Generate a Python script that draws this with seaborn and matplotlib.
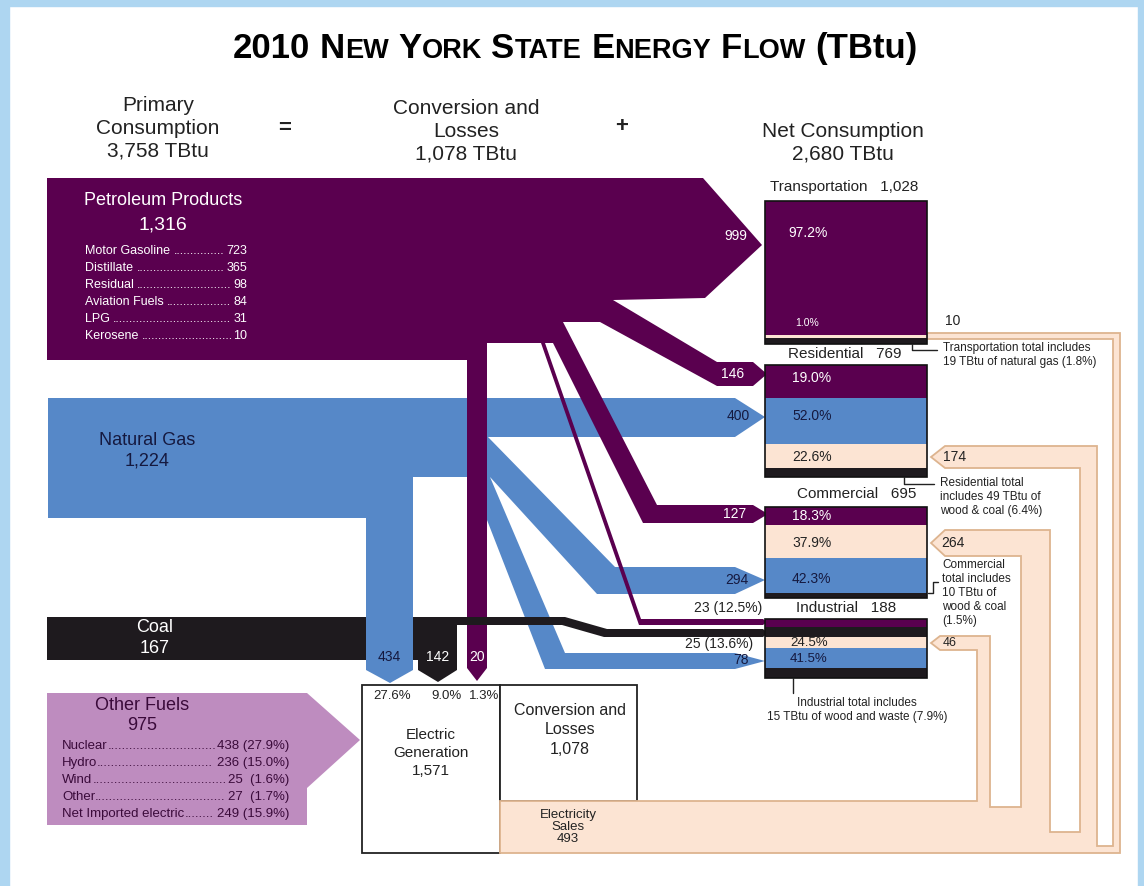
import matplotlib
matplotlib.use("Agg")
import matplotlib.pyplot as plt
from matplotlib.patches import Polygon, Rectangle
import seaborn as sns

# ---- data (TBtu) ----
primary_total = 3758
losses_total = 1078
net_total = 2680

petro_total = 1316
petro_items = ["Motor Gasoline", "Distillate", "Residual", "Aviation Fuels", "LPG", "Kerosene"]
petro_vals = [723, 365, 98, 84, 31, 10]

gas_total = 1224
coal_total = 167

other_total = 975
other_items = ["Nuclear", "Hydro", "Wind", "Other", "Net Imported electric"]
other_vals = [438, 236, 25, 27, 249]
other_pcts = [27.9, 15.0, 1.6, 1.7, 15.9]

sectors = ["Transportation", "Residential", "Commercial", "Industrial"]
sector_totals = [1028, 769, 695, 188]
petro_to_sector = [999, 146, 127, 23]
gas_to_sector = [None, 400, 294, 78]
elec_to_sector = [10, 174, 264, 46]
coal_to_industry = 25
petro_ind_pct = 12.5
coal_ind_pct = 13.6

# percent shares shown inside each sector box (top to bottom)
sector_pcts = {
    "Transportation": [97.2, 1.0],
    "Residential": [19.0, 52.0, 22.6],
    "Commercial": [18.3, 37.9, 42.3],
    "Industrial": [24.5, 41.5],
}
sector_notes = [
    "Transportation total includes\n19 TBtu of natural gas (1.8%)",
    "Residential total\nincludes 49 TBtu of\nwood & coal (6.4%)",
    "Commercial\ntotal includes\n10 TBtu of\nwood & coal\n(1.5%)",
    "Industrial total includes\n15 TBtu of wood and waste (7.9%)",
]

to_elec = [434, 142, 20]          # gas, coal, petroleum into electric generation
to_elec_pct = [27.6, 9.0, 1.3]
elec_gen = 1571
elec_sales = 493

# ---- colours ----
PURPLE = "#5A004F"
BLUE = "#5688C8"
COAL = "#1E1A1E"
PEACH = "#FCE4D3"
PEACH_EDGE = "#DDB48F"
OTHER = "#BE8CBF"
NAVY = "#15193F"
DARK = "#222222"
FRAME = "#AED6F1"

sns.set_theme(style="white")
plt.rcParams["font.family"] = ["Liberation Sans", "DejaVu Sans"]

fig = plt.figure(figsize=(11.44, 8.86), dpi=100)
ax = fig.add_axes([0, 0, 1, 1])
ax.set_xlim(0, 1144)
ax.set_ylim(886, 0)
ax.axis("off")
renderer = fig.canvas.get_renderer()


def poly(pts, color, z, ec="none", lw=0):
    ax.add_patch(Polygon(pts, closed=True, facecolor=color, edgecolor=ec, lw=lw, zorder=z))


def txt(x, y, s, size, color=DARK, ha="center", va="center", **kw):
    return ax.text(x, y, s, fontsize=size, color=color, ha=ha, va=va, zorder=10, **kw)


def width(t):
    return t.get_window_extent(renderer).width


def leader(x0, x1, y, label, value, size, color):
    tl = txt(x0, y, label, size, color, ha="left")
    tv = txt(x1, y, value, size, color, ha="right")
    probe = txt(0, 0, "." * 20, size, color, ha="left")
    dw = width(probe) / 20
    probe.remove()
    n = int((x1 - width(tv) - x0 - width(tl)) / dw)
    txt(x0 + width(tl), y, "." * max(n, 0), size, color, ha="left")


# ---- frame ----
ax.add_patch(Rectangle((0, 0), 9, 886, color=FRAME, zorder=0))
ax.add_patch(Rectangle((0, 0), 1144, 6, color=FRAME, zorder=0))
ax.add_patch(Rectangle((1138, 0), 6, 886, color=FRAME, zorder=0))

# ---- title in small caps ----
words = ["2010", "NEW", "YORK", "STATE", "ENERGY", "FLOW", "(TBtu)"]
big, small, ty = 25, 19.5, 58
pieces = []
for w in words:
    if w[0].isalpha() and w.isupper():
        pieces.append([(w[0], big), (w[1:], small)])
    else:
        pieces.append([(w, big)])
probe = txt(0, 0, "N N", big, ha="left", fontweight="bold")
gap = width(probe)
probe2 = txt(0, 0, "NN", big, ha="left", fontweight="bold")
gap -= width(probe2)
probe.remove()
probe2.remove()
objs = []
for wp in pieces:
    for s, fs in wp:
        objs.append(txt(0, ty, s, fs, "black", ha="left", va="baseline", fontweight="bold"))
    objs.append(None)
total = sum(width(o) if o is not None else gap for o in objs[:-1])
x = 575 - total / 2
for o in objs[:-1]:
    if o is None:
        x += gap
    else:
        o.set_x(x)
        x += width(o)

# ---- column headers ----
txt(158, 128, f"Primary\nConsumption\n{primary_total:,} TBtu", 15, linespacing=1.25)
txt(285, 128, "=", 16, fontweight="bold")
txt(466, 131, f"Conversion and\nLosses\n{losses_total:,} TBtu", 15, linespacing=1.25)
txt(622, 126, "+", 16, fontweight="bold")
txt(843, 143, f"Net Consumption\n{net_total:,} TBtu", 15, linespacing=1.25)

# ---- natural gas ----
gas_pts = [(48, 398), (735, 398), (765, 417), (735, 437), (488, 437),
           (615, 567), (735, 567), (765, 580), (735, 594), (597, 594), (490, 477),
           (565, 653), (735, 653), (765, 661), (735, 669), (545, 669), (487, 520),
           (487, 477), (413, 477), (413, 670), (390, 683), (366, 670), (366, 518),
           (48, 518)]
poly(gas_pts, BLUE, 2)
txt(147, 451, f"Natural Gas\n{gas_total:,}", 13, NAVY, linespacing=1.3)

# ---- coal block ----
poly([(47, 617), (457, 617), (457, 670), (438, 682), (418, 670), (418, 660), (47, 660)], COAL, 1)
txt(155, 638, f"Coal\n{coal_total}", 13, "white", linespacing=1.3)

# ---- petroleum ----
petro_pts = [(47, 178), (703, 178), (762, 245), (705, 298), (613, 300),
             (717, 362), (753, 362), (767, 374), (753, 386), (717, 386),
             (600, 322), (563, 322),
             (657, 505), (753, 505), (768, 514), (753, 523), (643, 523),
             (553, 343), (545, 343),
             (641, 619), (763, 619), (767, 622), (763, 625), (639, 625),
             (541, 343), (487, 343),
             (487, 668), (477, 681), (467, 668), (467, 360), (47, 360)]
poly(petro_pts, PURPLE, 3)
txt(163, 200, "Petroleum Products", 13, "white")
txt(163, 225, f"{petro_total:,}", 14, "white")
for i, (lab, v) in enumerate(zip(petro_items, petro_vals)):
    leader(85, 247, 251 + i * 17, lab + " ", str(v), 9, "white")

# ---- coal line to industry (on top) ----
poly([(457, 617), (565, 617), (607, 629), (763, 629), (768, 633), (763, 637),
      (604, 637), (562, 625), (457, 625)], COAL, 4)

# ---- other fuels ----
poly([(47, 693), (307, 693), (360, 740), (307, 788), (307, 825), (47, 825)], OTHER, 2)
OTXT = "#3A0A3A"
txt(142, 705, "Other Fuels", 13, OTXT)
txt(142, 725, f"{other_total}", 13, OTXT)
for i, (lab, v, p) in enumerate(zip(other_items, other_vals, other_pcts)):
    val = f"{v} ({p:.1f}%)" if p >= 10 else f"{v}  ({p:.1f}%)"
    leader(62, 289, 746 + i * 17, lab, val, 9.5, OTXT)

# ---- flow labels ----
txt(736, 236, f"{petro_to_sector[0]}", 10, "white")
txt(733, 374, f"{petro_to_sector[1]}", 10, "white")
txt(735, 514, f"{petro_to_sector[2]}", 10, "white")
txt(762, 608, f"{petro_to_sector[3]} ({petro_ind_pct}%)", 10, DARK, ha="right")
txt(738, 416, f"{gas_to_sector[1]}", 10, NAVY)
txt(737, 580, f"{gas_to_sector[2]}", 10, NAVY)
txt(741, 660, f"{gas_to_sector[3]}", 10, NAVY)
txt(753, 644, f"{coal_to_industry} ({coal_ind_pct}%)", 10, DARK, ha="right")
for xx, v, c in zip([389, 438, 477], to_elec, [NAVY, "white", "white"]):
    txt(xx, 657, f"{v}", 10, c)

# ---- electric generation / conversion boxes ----
ax.add_patch(Rectangle((362, 685), 138, 168, facecolor="white", edgecolor=DARK, lw=1.3, zorder=3))
ax.add_patch(Rectangle((500, 685), 137, 116, facecolor="white", edgecolor=DARK, lw=1.3, zorder=3))
for xx, p in zip([392, 446, 484], to_elec_pct):
    txt(xx, 696, f"{p}%", 9.5)
txt(431, 753, f"Electric\nGeneration\n{elec_gen:,}", 11, linespacing=1.35)
txt(570, 730, f"Conversion and\nLosses\n{losses_total:,}", 11.5, linespacing=1.35)

# ---- electricity sales band and loops ----
elec_pts = [(500, 801), (977, 801), (977, 650), (940, 650), (931, 643), (940, 636),
            (990, 636), (990, 807), (1021, 807), (1021, 556), (945, 556), (931, 543),
            (945, 530), (1050, 530), (1050, 832), (1080, 832), (1080, 468), (945, 468),
            (931, 457), (945, 446), (1097, 446), (1097, 846), (1113, 846), (1113, 339),
            (927, 339), (927, 333), (1120, 333), (1120, 853), (500, 853)]
poly(elec_pts, PEACH, 4, ec=PEACH_EDGE, lw=1.3)
txt(568, 827, f"Electricity\nSales\n{elec_sales}", 9.5, linespacing=1.05)
txt(955, 457, f"{elec_to_sector[1]}", 10)
txt(953, 543, f"{elec_to_sector[2]}", 10)
txt(950, 643, f"{elec_to_sector[3]}", 9)
txt(953, 321, f"{elec_to_sector[0]}", 10)

# ---- sector boxes ----
BX0, BX1 = 765, 927
box_layers = {
    "Transportation": [(201, 335, PURPLE), (335, 338, PEACH), (338, 344, COAL)],
    "Residential": [(365, 398, PURPLE), (398, 444, BLUE), (444, 468, PEACH), (468, 477, COAL)],
    "Commercial": [(507, 525, PURPLE), (525, 558, PEACH), (558, 593, BLUE), (593, 598, COAL)],
    "Industrial": [(619, 627, PURPLE), (627, 637, COAL), (637, 648, PEACH), (648, 668, BLUE), (668, 678, COAL)],
}
pct_pos = {
    "Transportation": [(788, 233, 10, "white"), (795, 323, 7.5, "white")],
    "Residential": [(792, 378, 10, "white"), (792, 416, 10, NAVY), (792, 457, 10, DARK)],
    "Commercial": [(792, 516, 10, "white"), (792, 543, 10, DARK), (792, 579, 10, NAVY)],
    "Industrial": [(790, 643, 9.5, DARK), (790, 659, 9.5, NAVY)],
}
title_pos = [(844, 187), (845, 354), (857, 494), (846, 608)]
for name, tot, (lx, ly) in zip(sectors, sector_totals, title_pos):
    layers = box_layers[name]
    for y0, y1, c in layers:
        ax.add_patch(Rectangle((BX0, y0), BX1 - BX0, y1 - y0, facecolor=c, edgecolor="none", zorder=5))
    ax.add_patch(Rectangle((BX0, layers[0][0]), BX1 - BX0, layers[-1][1] - layers[0][0],
                           facecolor="none", edgecolor="#111111", lw=1.2, zorder=6))
    txt(lx, ly, f"{name}   {tot:,}", 11)
    for (px, py, fs, c), p in zip(pct_pos[name], sector_pcts[name]):
        txt(px, py, f"{p:.1f}%", fs, c, ha="left")

# ---- notes with connectors ----
LC = "#222222"
ax.plot([912, 912, 937], [344, 350, 350], color=LC, lw=1, zorder=7)
txt(943, 355, sector_notes[0], 8.5, ha="left", linespacing=1.2)
ax.plot([904, 904, 934], [477, 484, 484], color=LC, lw=1, zorder=7)
txt(940, 497, sector_notes[1], 8.5, ha="left", linespacing=1.2)
ax.plot([928, 933, 933, 938], [593, 593, 582, 582], color=LC, lw=1, zorder=7)
txt(942, 593, sector_notes[2], 8.5, ha="left", linespacing=1.2)
ax.plot([793, 793], [678, 693], color=LC, lw=1, zorder=7)
txt(857, 710, sector_notes[3], 8.5, linespacing=1.2)

fig.savefig("out.png", dpi=100)
